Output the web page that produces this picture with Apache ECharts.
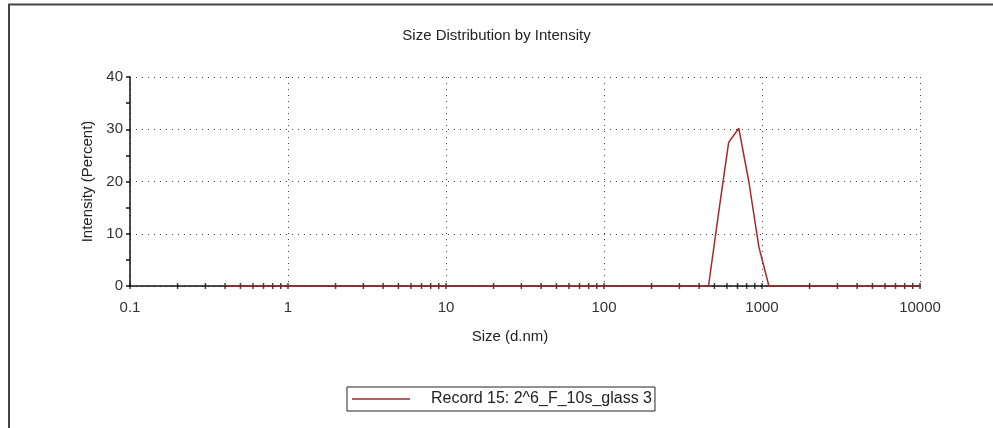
<!DOCTYPE html>
<html>
<head>
<meta charset="utf-8">
<script src="https://cdn.jsdelivr.net/npm/echarts@6/dist/echarts.min.js"></script>
<style>
  html, body { margin: 0; padding: 0; background: #fff; }
  #main { width: 993px; height: 428px; }
</style>
</head>
<body>
<div id="main"></div>
<script>
// size bins (d.nm) and intensity (%)
var sizes = [0.4, 0.4632, 0.5365, 0.6213, 0.7195, 0.8332, 0.9649, 1.117, 1.294, 1.499,
    1.736, 2.010, 2.328, 2.696, 3.122, 3.615, 4.187, 4.849, 5.615, 6.503,
    7.531, 8.721, 10.10, 11.70, 13.54, 15.69, 18.17, 21.04, 24.36, 28.21,
    32.67, 37.84, 43.82, 50.75, 58.77, 68.06, 78.82, 91.28, 105.7, 122.4,
    141.8, 164.2, 190.1, 220.2, 255.0, 295.3, 342.0, 396.1, 458.7, 531.2,
    615.1, 712.4, 825.0, 955.4, 1106, 1281, 1484, 1718, 1990, 2305,
    2669, 3091, 3580, 4145, 4801, 5560, 6439, 7456, 8635, 10000];
var intensity = [0, 0, 0, 0, 0, 0, 0, 0, 0, 0,
    0, 0, 0, 0, 0, 0, 0, 0, 0, 0,
    0, 0, 0, 0, 0, 0, 0, 0, 0, 0,
    0, 0, 0, 0, 0, 0, 0, 0, 0, 0,
    0, 0, 0, 0, 0, 0, 0, 0, 0, 14.0,
    27.5, 30.2, 20.0, 7.5, 0, 0, 0, 0, 0, 0,
    0, 0, 0, 0, 0, 0, 0, 0, 0, 0];
var recordName = 'Record 15: 2^6_F_10s_glass 3';

// tick marks on the log axis: 1..9 in every decade
var decades = [0.1, 1, 10, 100, 1000];
var tickMarks = [];
decades.forEach(function (d) {
    for (var m = 1; m <= 9; m++) tickMarks.push([+(d * m).toPrecision(4), 0]);
});
tickMarks.push([10000, 0]);

var lineData = sizes.map(function (s, i) { return [s, intensity[i]]; });

var chart = echarts.init(document.getElementById('main'));
chart.setOption({
    animation: false,
    textStyle: { fontFamily: 'Liberation Sans, Arial, sans-serif' },
    title: {
        text: 'Size Distribution by Intensity',
        left: 'center',
        top: 23,
        textStyle: { fontSize: 15, fontWeight: 'normal', color: '#222' }
    },
    grid: { left: 130, right: 73, top: 77, bottom: 142 },
    legend: {
        data: [recordName],
        left: 347,
        top: 387,
        padding: [4, 3, 4, 5],
        borderColor: '#222',
        borderWidth: 1,
        icon: 'rect',
        itemWidth: 58,
        itemHeight: 1.5,
        textStyle: { fontSize: 16, color: '#222', padding: [0, 0, 0, 16] }
    },
    xAxis: {
        type: 'log',
        logBase: 10,
        min: 0.1,
        max: 10000,
        name: 'Size (d.nm)',
        nameLocation: 'middle',
        nameGap: 43,
        nameTextStyle: { fontSize: 15, color: '#222', padding: [0, 30, 0, 0] },
        axisLine: { onZero: false, lineStyle: { color: '#111', width: 1.5 } },
        axisTick: { show: false },
        axisLabel: {
            fontSize: 15, color: '#333', margin: 14,
            formatter: function (v) { return String(Number(v.toPrecision(6))); }
        },
        splitLine: { show: true, lineStyle: { color: '#444', type: [1, 5], width: 1 } }
    },
    yAxis: {
        type: 'value',
        min: 0,
        max: 40,
        interval: 10,
        name: 'Intensity (Percent)',
        nameLocation: 'middle',
        nameGap: 35,
        nameTextStyle: { fontSize: 15, color: '#222' },
        axisLine: { show: true, lineStyle: { color: '#111', width: 1.5 } },
        axisTick: { show: true, length: 4, lineStyle: { color: '#111', width: 1.5 } },
        minorTick: { show: true, splitNumber: 2, length: 4, lineStyle: { color: '#111', width: 1.5 } },
        axisLabel: { fontSize: 15, color: '#333', margin: 7 },
        splitLine: { show: true, lineStyle: { color: '#444', type: [1, 5], width: 1 } }
    },
    series: [
        {
            name: 'ticks',
            type: 'scatter',
            data: tickMarks,
            symbol: 'rect',
            symbolSize: [1.5, 6],
            itemStyle: { color: '#111' },
            silent: true,
            z: 1
        },
        {
            name: recordName,
            type: 'line',
            data: lineData,
            symbol: 'none',
            lineStyle: { color: '#a82828', width: 1.5 },
            itemStyle: { color: '#a82828' },
            z: 3
        }
    ],
    graphic: [{
        type: 'polyline',
        shape: { points: [[9, 428], [9, 4.5], [993, 4.5]] },
        style: { stroke: '#444', lineWidth: 2, fill: null }
    }]
});
</script>
</body>
</html>
